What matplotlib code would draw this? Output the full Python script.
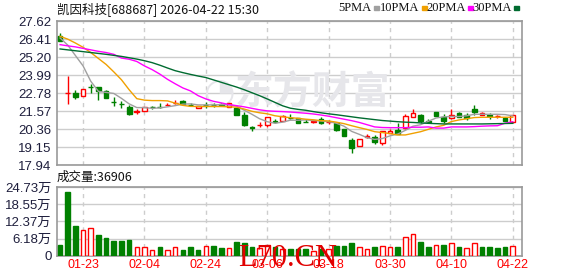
import matplotlib
matplotlib.use("Agg")
import matplotlib.pyplot as plt
import numpy as np

# ---------------- data ----------------
title = "凯因科技[688687] 2026-04-22 15:30"
date_labels = ["01-23", "02-04", "02-24", "03-06", "03-18", "03-30", "04-10", "04-22"]
date_pos = [3, 11, 19, 27, 35, 43, 51, 59]

opens = [26.59, 22.76, 22.81, 22.61, 23.20, 23.15, 22.91, 22.20, 22.07, 21.87,
         21.52, 21.60, 21.86, 21.85, 21.96, 22.08, 22.27, 21.98, 21.76, 22.00,
         21.99, 22.01, 21.85, 21.76, 21.28, 20.47, 20.62, 20.65, 20.88, 20.92,
         21.11, 21.11, 20.84, 20.86, 21.04, 20.82, 20.75, 20.35, 19.65, 19.22,
         19.80, 19.82, 19.40, 20.12, 20.30, 20.45, 21.20, 21.33, 20.88, 21.51,
         21.17, 21.13, 21.46, 21.33, 21.71, 21.33, 21.27, 21.23, 21.13, 20.82]
closes = [26.30, 22.78, 22.54, 23.06, 23.15, 22.93, 22.43, 22.15, 22.03, 21.38,
          21.55, 21.83, 21.82, 21.82, 21.99, 22.14, 22.05, 21.94, 21.88, 21.97,
          21.96, 21.98, 22.08, 21.33, 20.63, 20.44, 20.66, 21.15, 20.85, 21.25,
          21.08, 20.79, 20.82, 20.89, 20.77, 20.85, 20.26, 19.90, 19.06, 19.68,
          19.88, 19.49, 20.23, 20.24, 20.04, 21.26, 21.44, 20.92, 20.85, 21.26,
          20.92, 21.31, 21.19, 21.13, 21.49, 21.46, 21.25, 21.25, 20.92, 21.29]
highs = [26.82, 23.94, 22.95, 23.08, 23.40, 23.20, 22.95, 22.48, 22.25, 21.98,
         21.69, 21.86, 21.92, 22.10, 22.12, 22.32, 22.29, 22.12, 21.92, 22.18,
         22.10, 22.12, 22.10, 21.78, 21.49, 20.59, 20.84, 21.19, 21.00, 21.27,
         21.36, 21.13, 21.02, 20.98, 21.20, 20.95, 20.77, 20.37, 19.78, 19.70,
         20.00, 19.98, 20.25, 20.38, 20.75, 21.38, 21.69, 21.35, 21.05, 21.53,
         21.38, 21.69, 21.48, 21.42, 21.98, 21.50, 21.44, 21.30, 21.20, 21.31]
lows = [26.28, 22.03, 22.37, 22.60, 22.77, 22.32, 22.42, 21.92, 21.80, 21.29,
        21.36, 21.58, 21.72, 21.80, 21.95, 22.06, 22.03, 21.92, 21.74, 21.80,
        21.86, 21.96, 21.83, 21.30, 20.57, 20.25, 20.52, 20.47, 20.78, 20.90,
        21.02, 20.77, 20.80, 20.76, 20.68, 20.70, 20.24, 19.88, 18.78, 19.20,
        19.76, 19.38, 19.30, 20.06, 20.02, 20.36, 21.18, 20.75, 20.80, 21.24,
        20.75, 21.02, 21.17, 20.98, 21.31, 21.30, 21.02, 21.08, 20.88, 20.80]

# volume in 万 (10k shares); 1 = red bar, 0 = green bar
volume = [3.8, 23.1, 10.6, 9.2, 9.9, 7.4, 6.3, 5.2, 5.2, 5.6,
          3.1, 3.1, 2.3, 3.1, 2.3, 3.1, 2.0, 3.1, 2.0, 3.6,
          3.5, 2.7, 2.7, 4.9, 4.5, 3.1, 2.7, 4.0, 3.1, 2.6,
          2.4, 2.4, 2.4, 1.8, 2.6, 2.4, 3.5, 3.5, 4.5, 3.1,
          2.4, 3.1, 3.7, 3.3, 3.1, 6.9, 8.0, 4.9, 3.1, 4.0,
          3.8, 4.8, 3.1, 2.7, 4.8, 3.1, 3.1, 2.7, 3.1, 3.69]
vol_red = [0, 0, 0, 1, 1, 0, 0, 0, 0, 0,
           1, 1, 1, 0, 1, 1, 0, 0, 0, 1,
           0, 0, 1, 0, 0, 0, 1, 1, 0, 1,
           0, 0, 0, 1, 0, 1, 0, 0, 0, 1,
           1, 0, 1, 1, 0, 1, 1, 0, 0, 1,
           0, 1, 0, 1, 1, 0, 0, 0, 0, 1]

ma5 = [26.48, 26.00, 25.30, 24.60, 23.57, 22.89, 22.82, 22.75, 22.42, 22.05,
       21.80, 21.80, 21.75, 21.78, 21.85, 21.93, 22.03, 22.05, 21.98, 21.98,
       21.98, 22.00, 21.98, 21.90, 21.62, 21.35, 21.05, 20.85, 20.75, 20.82,
       20.95, 20.95, 20.97, 20.93, 20.90, 20.85, 20.75, 20.55, 20.20, 20.00,
       19.78, 19.66, 19.72, 19.90, 20.02, 20.27, 20.55, 20.65, 20.88, 21.10,
       21.18, 21.20, 21.20, 21.25, 21.35, 21.35, 21.35, 21.35, 21.33, 21.24]
ma10 = [26.59, 26.40, 26.14, 25.85, 25.50, 25.10, 24.70, 24.20, 23.67, 23.00,
        22.40, 22.30, 22.27, 22.27, 22.25, 22.10, 21.95, 21.88, 21.87, 21.87,
        21.87, 21.87, 21.85, 21.83, 21.70, 21.55, 21.45, 21.38, 21.25, 21.18,
        21.12, 21.08, 21.02, 20.98, 20.92, 20.90, 20.82, 20.72, 20.58, 20.45,
        20.33, 20.18, 20.12, 20.05, 19.96, 19.96, 20.07, 20.18, 20.34, 20.50,
        20.61, 20.86, 20.97, 21.05, 21.13, 21.15, 21.15, 21.15, 21.15, 21.15]
ma20 = [26.03, 25.95, 25.88, 25.78, 25.68, 25.58, 25.50, 25.38, 25.13, 25.05,
        24.90, 24.60, 24.35, 24.05, 23.70, 23.40, 23.12, 22.92, 22.60, 22.38,
        22.22, 22.12, 22.00, 21.93, 21.85, 21.75, 21.65, 21.58, 21.55, 21.53,
        21.50, 21.46, 21.42, 21.37, 21.30, 21.22, 21.12, 21.02, 20.92, 20.80,
        20.65, 20.50, 20.46, 20.45, 20.45, 20.45, 20.48, 20.48, 20.50, 20.42,
        20.42, 20.50, 20.50, 20.50, 20.52, 20.55, 20.57, 20.58, 20.75, 20.85]
ma30 = [25.74, 25.68, 25.62, 25.56, 25.50, 25.44, 25.38, 25.31, 25.24, 25.15,
        25.06, 24.95, 24.82, 24.65, 24.46, 24.28, 24.15, 24.03, 23.92, 23.82,
        23.66, 23.50, 23.34, 23.18, 23.00, 22.80, 22.60, 22.38, 22.15, 21.92,
        21.76, 21.68, 21.62, 21.53, 21.45, 21.38, 21.32, 21.25, 21.18, 21.11,
        21.05, 20.99, 20.93, 20.89, 20.85, 20.82, 20.80, 20.77, 20.74, 20.72,
        20.70, 20.70, 20.70, 20.70, 20.70, 20.70, 20.71, 20.72, 20.73, 20.74]

price_ticks = ["17.94", "19.15", "20.36", "21.57", "22.78", "23.99", "25.20", "26.41", "27.62"]
vol_ticks = [0, 6.18, 12.37, 18.55, 24.73]
vol_tick_labels = ["0", "6.18万", "12.37万", "18.55万", "24.73万"]
last_volume = "36906"

# ---------------- styling ----------------
RED = "#ff0000"
GREEN = "#008000"
GRID = "#cdcdcd"
FRAME = "#999999"
LABEL = "#1e1e3c"
ma_styles = [("5PMA", ma5, "#a0a0a0"), ("10PMA", ma10, "#f0a000"),
             ("20PMA", ma20, "#ff00ff"), ("30PMA", ma30, "#006b30")]

plt.rcParams["font.family"] = ["Liberation Sans", "Noto Sans CJK SC"]

fig = plt.figure(figsize=(5.78, 2.76), dpi=100)
W, H = 578.0, 276.0
ax = fig.add_axes([57 / W, 1 - 165 / H, (522 - 57) / W, (165 - 21) / H])
axv = fig.add_axes([57 / W, 1 - 256 / H, (522 - 57) / W, (256 - 187) / H])

x = np.arange(len(opens))
o = np.array(opens)
c = np.array(closes)
up = c >= o
col = np.where(up, RED, GREEN)

for a in (ax, axv):
    a.set_xlim(-0.4, 60.2)
    a.set_xticks(date_pos)
    a.grid(axis="x", color=GRID, lw=1, ls=(0, (3, 3)))
    a.grid(axis="y", color=GRID, lw=1, ls="-")
    a.set_axisbelow(True)
    for s in a.spines.values():
        s.set_color(FRAME)
        s.set_linewidth(1.2)
    a.tick_params(length=0, labelsize=9.5, labelcolor=LABEL, pad=4)

# candles
ax.vlines(x, lows, highs, colors=col, lw=1, zorder=2)
body_h = np.maximum(np.abs(c - o), 0.03)
ax.bar(x, body_h, bottom=np.minimum(o, c), width=0.62,
       color=np.where(up, "white", GREEN), edgecolor=col, linewidth=1, zorder=3)

for name, vals, color in ma_styles:
    ax.plot(x, vals, color=color, lw=1, zorder=4)

ax.set_ylim(17.94, 27.62)
ax.set_yticks([float(t) for t in price_ticks])
ax.set_yticklabels(price_ticks)
ax.set_xticklabels([])

# volume
vr = np.array(vol_red) == 1
axv.bar(x, volume, width=0.6, color=np.where(vr, "white", GREEN),
        edgecolor=np.where(vr, RED, GREEN), linewidth=1, zorder=3)
axv.set_ylim(0, 24.73)
axv.set_yticks(vol_ticks)
axv.set_yticklabels(vol_tick_labels)
axv.set_xticklabels(date_labels, color=RED, fontsize=9)
axv.tick_params(axis="x", pad=2, labelcolor=RED)

# watermark (logo swirl + name)
ax.text(0.35, 0.50, "◔", transform=ax.transAxes, fontsize=26,
        color="#e6e6ea", ha="center", va="center",
        family=["DejaVu Sans"], zorder=1)
ax.text(0.55, 0.50, "东方财富", transform=ax.transAxes, fontsize=28,
        color="#e6e6ea", ha="center", va="center", fontweight="bold",
        family=["Noto Sans CJK SC"], zorder=1)

# texts
fig.text(57 / W, 1 - 9 / H, title, fontsize=9, color="#111111",
         va="center", ha="left", family=["Noto Sans CJK SC"])
fig.text(57 / W, 1 - 177 / H, "成交量:" + last_volume, fontsize=9,
         color="#111111", va="center", ha="left", family=["Noto Sans CJK SC"])

leg_x = [338, 380, 426, 472]
for (name, vals, color), lx in zip(ma_styles, leg_x):
    t = fig.text(lx / W, 1 - 8 / H, name, fontsize=9, color="#111111",
                 va="center", ha="left", family=["Liberation Serif"])
    fig.canvas.draw()
    bb = t.get_window_extent()
    fig.patches.append(plt.Rectangle(((bb.x1 + 3) / W, 1 - 10 / H), 5 / W, 4 / H,
                                     transform=fig.transFigure, color=color, figure=fig))

fig.text(288 / W, 1 - 258 / H, "L70.CN", fontsize=22, color="#e00000",
         ha="center", va="center", family=["Liberation Serif"], zorder=10)

fig.savefig("out.png", dpi=100)
